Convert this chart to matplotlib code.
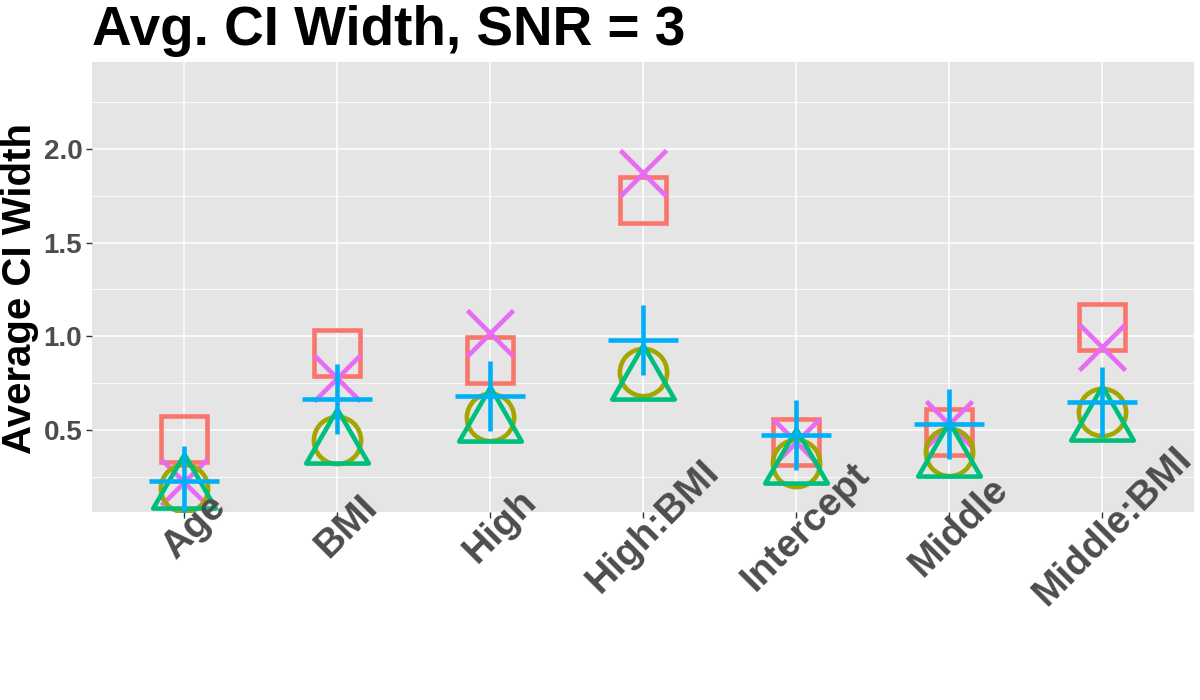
import matplotlib
matplotlib.use("Agg")
import matplotlib.pyplot as plt
from matplotlib.path import Path
from matplotlib.ticker import MultipleLocator
import matplotlib.transforms as mtransforms

plt.rcParams["font.family"] = ["Liberation Sans", "DejaVu Sans"]

# ---------------------------------------------------------------------------
# data
# ---------------------------------------------------------------------------
terms = ["Age", "BMI", "High", "High:BMI", "Intercept", "Middle", "Middle:BMI"]

square_vals = [0.449, 0.911, 0.876, 1.729, 0.436, 0.490, 1.051]
circle_vals = [0.190, 0.447, 0.571, 0.811, 0.322, 0.384, 0.598]
triangle_vals = [0.180, 0.420, 0.535, 0.761, 0.313, 0.348, 0.543]
plus_vals = [0.230, 0.664, 0.683, 0.979, 0.472, 0.530, 0.649]
cross_vals = [0.220, 0.777, 1.018, 1.870, 0.438, 0.530, 0.944]

# ggplot default hue palette for five groups
COLOURS = ["#F8766D", "#A3A500", "#00BF7D", "#00B0F6", "#E76BF3"]

# R-style open triangle (pch 2): centred on the centroid
tri = Path([(0.0, 1.5551), (1.3468, -0.7776), (-1.3468, -0.7776), (0.0, 1.5551)],
           closed=True)

x = list(range(1, len(terms) + 1))

fig = plt.figure(figsize=(12, 7), dpi=100)
ax = fig.add_axes([92 / 1200, 1 - 512 / 700, (1194 - 92) / 1200, (512 - 62) / 700])
ax.set_facecolor("#E5E5E5")

LW = 3.3
series = [
    (square_vals, "s", 33, COLOURS[0]),
    (cross_vals, "x", 33, COLOURS[4]),
    (circle_vals, "o", 34, COLOURS[1]),
    (triangle_vals, tri, 52, COLOURS[2]),
    (plus_vals, "+", 50, COLOURS[3]),
]
for vals, mk, ms, col in series:
    ax.plot(x, vals, linestyle="none", marker=mk, markersize=ms,
            markerfacecolor="none", markeredgecolor=col, markeredgewidth=LW,
            zorder=3)

ax.set_xlim(0.4, 7.6)
ax.set_ylim(0.062, 2.464)
ax.yaxis.set_minor_locator(MultipleLocator(0.25))
ax.set_yticks([0.5, 1.0, 1.5, 2.0])
ax.set_yticklabels(["0.5", "1.0", "1.5", "2.0"])
ax.set_xticks(x)
ax.set_xticklabels([])

ax.grid(True, which="major", color="white", linewidth=1.1, zorder=0)
ax.grid(True, which="minor", axis="y", color="white", linewidth=0.55, zorder=0)
ax.set_axisbelow(True)
for s in ax.spines.values():
    s.set_visible(False)

ax.tick_params(axis="both", which="major", length=4, width=1, color="#333333")
ax.tick_params(axis="y", which="minor", length=0)
ax.tick_params(axis="y", labelsize=20, labelcolor="#4D4D4D", pad=3)
for lab in ax.get_yticklabels():
    lab.set_fontweight("bold")

# rotated category labels, centred a little right of and below each tick
trans = mtransforms.blended_transform_factory(ax.transData, ax.transAxes)
shift = mtransforms.ScaledTranslation(10 / 100, 0, fig.dpi_scale_trans)
for xi, t in zip(x, terms):
    ax.text(xi, -(527 - 512) / 450, t, transform=trans + shift, rotation=45,
            rotation_mode="anchor", ha="center", va="center",
            fontsize=28, fontweight="bold", color="#4D4D4D", clip_on=False)

fig.text(20 / 1200, 1 - 288 / 700, "Average CI Width", rotation=90,
         ha="center", va="center", fontsize=29, fontweight="bold", color="black")
fig.text(92 / 1200, 1 - 45 / 700, "Avg. CI Width, SNR = 3", ha="left",
         va="baseline", fontsize=39.5, fontweight="bold", color="black")

fig.savefig("out.png", dpi=100)
